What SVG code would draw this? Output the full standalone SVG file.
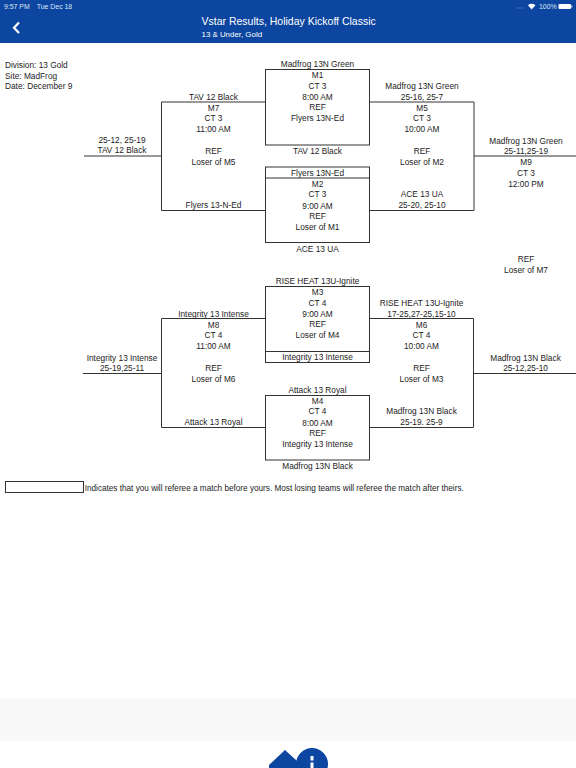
<svg xmlns="http://www.w3.org/2000/svg" width="576" height="768" viewBox="0 0 576 768">
<style>
text{font-family:"Liberation Sans",Arial,sans-serif;font-size:8.3px;fill:#1c1c1c}
.m{text-anchor:middle}
.w{fill:#fff}
.s{font-size:6.9px;fill:#dfe7f5}
.l{fill:none;stroke:#333;stroke-width:1}
.b{fill:none;stroke:#333;stroke-width:1}
</style>
<rect width="576" height="768" fill="#fff"/>
<g id="header">
<rect width="576" height="43" fill="#0c46a0"/>
<text class="s" x="4" y="8.700">9:57 PM</text>
<text class="s" x="36.800" y="8.700">Tue Dec 18</text>
<text class="s" x="539" y="8.700">100%</text>
<path d="M517 8h1M519 8h1M521 8h1M523 8h1" stroke="#6f8fc8" stroke-width="1" fill="none"/>
<path d="M528 5.200a5.400 5.400 0 0 1 7.400 0L531.700 9.500z" fill="#fff"/>
<rect x="558.500" y="4" width="12.500" height="5" rx="1" fill="#fff"/>
<rect x="571.300" y="5.500" width="1" height="2" fill="#fff"/>
<path d="M19 22.500l-5 5.300 5 5.300" fill="none" stroke="#fff" stroke-width="2.200"/>
<text class="w" x="201.500" y="25.300" style="font-size:10.500px">Vstar Results, Holiday Kickoff Classic</text>
<text class="w" x="201.500" y="36.700" style="font-size:7.900px">13 &amp; Under, Gold</text>
</g>
<g id="info">
<text x="5" y="67.500">Division: 13 Gold</text>
<text x="5" y="78.500">Site: MadFrog</text>
<text x="5" y="88.500">Date: December 9</text>
</g>
<g id="connectors">
<path class="l" d="M84 156H161.500M161.500 102V210.500M161.500 102H265.500M161.500 210.500H265.500M369.500 102H474V210.500H369.500M474 156H576"/>
<path class="l" d="M83 373.500H161.500M161.500 318.500V427.500M161.500 318.500H265.500M161.500 427.500H265.500M369.500 318.500H473.500V427.500H369.500M473.500 373.500H576"/>
</g>
<g id="M1">
<rect class="b" x="265.500" y="69.500" width="104" height="75.500"/>
<text class="m" x="317.500" y="66.700">Madfrog 13N Green</text>
<text class="m" x="317.500" y="78">M1</text>
<text class="m" x="317.500" y="88.700">CT 3</text>
<text class="m" x="317.500" y="100">8:00 AM</text>
<text class="m" x="317.500" y="110.300">REF</text>
<text class="m" x="317.500" y="121">Flyers 13N-Ed</text>
<text class="m" x="317.500" y="154.200">TAV 12 Black</text>
</g>
<g id="M2">
<rect class="b" x="265.500" y="167" width="104" height="75.500"/>
<path class="b" d="M265.500 178H369.500"/>
<text class="m" x="317.500" y="175.700">Flyers 13N-Ed</text>
<text class="m" x="317.500" y="187">M2</text>
<text class="m" x="317.500" y="197">CT 3</text>
<text class="m" x="317.500" y="208.700">9:00 AM</text>
<text class="m" x="317.500" y="219">REF</text>
<text class="m" x="317.500" y="230">Loser of M1</text>
<text class="m" x="317.500" y="251.700">ACE 13 UA</text>
</g>
<g id="M3">
<rect class="b" x="265.500" y="286.500" width="104" height="76"/>
<path class="b" d="M265.500 351.500H369.500"/>
<text class="m" x="317.500" y="284">RISE HEAT 13U-Ignite</text>
<text class="m" x="317.500" y="295">M3</text>
<text class="m" x="317.500" y="305.500">CT 4</text>
<text class="m" x="317.500" y="317">9:00 AM</text>
<text class="m" x="317.500" y="327">REF</text>
<text class="m" x="317.500" y="338">Loser of M4</text>
<text class="m" x="317.500" y="360">Integrity 13 Intense</text>
</g>
<g id="M4">
<rect class="b" x="265.500" y="395.500" width="104" height="64.500"/>
<text class="m" x="317.500" y="393">Attack 13 Royal</text>
<text class="m" x="317.500" y="404">M4</text>
<text class="m" x="317.500" y="414">CT 4</text>
<text class="m" x="317.500" y="425.500">8:00 AM</text>
<text class="m" x="317.500" y="436">REF</text>
<text class="m" x="317.500" y="447">Integrity 13 Intense</text>
<text class="m" x="317.500" y="469">Madfrog 13N Black</text>
</g>
<g id="M7">
<text class="m" x="213.500" y="99.700">TAV 12 Black</text>
<text class="m" x="213.500" y="110.700">M7</text>
<text class="m" x="213.500" y="121">CT 3</text>
<text class="m" x="213.500" y="131.700">11:00 AM</text>
<text class="m" x="213.500" y="154">REF</text>
<text class="m" x="213.500" y="165">Loser of M5</text>
<text class="m" x="213.500" y="208">Flyers 13-N-Ed</text>
<text class="m" x="122" y="143.300">25-12, 25-19</text>
<text class="m" x="122" y="153.300">TAV 12 Black</text>
</g>
<g id="M5">
<text class="m" x="422" y="88.500">Madfrog 13N Green</text>
<text class="m" x="422" y="99.500">25-16, 25-7</text>
<text class="m" x="422" y="110.500">M5</text>
<text class="m" x="422" y="121">CT 3</text>
<text class="m" x="422" y="131.700">10:00 AM</text>
<text class="m" x="422" y="154">REF</text>
<text class="m" x="422" y="165">Loser of M2</text>
<text class="m" x="422" y="197">ACE 13 UA</text>
<text class="m" x="422" y="208">25-20, 25-10</text>
</g>
<g id="M9">
<text class="m" x="526" y="143.500">Madfrog 13N Green</text>
<text class="m" x="526" y="154">25-11,25-19</text>
<text class="m" x="526" y="165">M9</text>
<text class="m" x="526" y="176">CT 3</text>
<text class="m" x="526" y="187">12:00 PM</text>
<text class="m" x="526" y="262">REF</text>
<text class="m" x="526" y="273">Loser of M7</text>
</g>
<g id="M8">
<text class="m" x="213.500" y="316.500">Integrity 13 Intense</text>
<text class="m" x="213.500" y="327.500">M8</text>
<text class="m" x="213.500" y="338">CT 4</text>
<text class="m" x="213.500" y="349">11:00 AM</text>
<text class="m" x="213.500" y="371">REF</text>
<text class="m" x="213.500" y="382">Loser of M6</text>
<text class="m" x="213.500" y="425">Attack 13 Royal</text>
<text class="m" x="122" y="360.500">Integrity 13 Intense</text>
<text class="m" x="122" y="371">25-19,25-11</text>
</g>
<g id="M6">
<text class="m" x="421.500" y="305.500">RISE HEAT 13U-Ignite</text>
<text class="m" x="421.500" y="316.500">17-25,27-25,15-10</text>
<text class="m" x="421.500" y="327.500">M6</text>
<text class="m" x="421.500" y="338">CT 4</text>
<text class="m" x="421.500" y="349">10:00 AM</text>
<text class="m" x="421.500" y="371">REF</text>
<text class="m" x="421.500" y="382">Loser of M3</text>
<text class="m" x="421.500" y="414">Madfrog 13N Black</text>
<text class="m" x="421.500" y="425">25-19. 25-9</text>
<text class="m" x="525.500" y="360.500">Madfrog 13N Black</text>
<text class="m" x="525.500" y="371">25-12,25-10</text>
</g>
<g id="legend">
<rect class="b" x="5.500" y="481.500" width="78" height="11"/>
<text x="84.700" y="491" style="font-size:8.200px">Indicates that you will referee a match before yours. Most losing teams will referee the match after theirs.</text>
</g>
<g id="footer">
<rect y="698" width="576" height="43" fill="#f9f9f9"/>
<path d="M269 765L285 750L297 761V768H269z" fill="#0c46a0"/>
<circle cx="312" cy="764" r="16" fill="#0c46a0"/>
<rect x="310.500" y="756" width="3" height="4.500" fill="#fff"/>
<rect x="310.500" y="762.500" width="3" height="5.500" fill="#fff"/>
</g>
</svg>
